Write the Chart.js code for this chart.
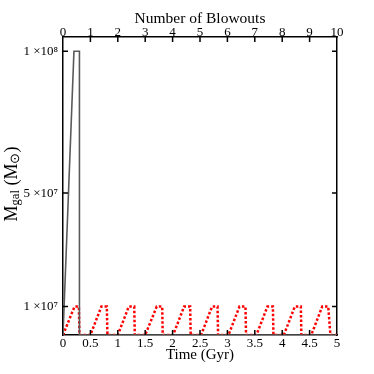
<!DOCTYPE html>
<html><head><meta charset="utf-8">
<script src="https://cdn.jsdelivr.net/npm/chart.js@4"></script>
<style>html,body{margin:0;padding:0;background:#fff}#wrap{width:374px;height:374px;position:relative}</style>
</head><body><div id="wrap"><canvas id="c"></canvas></div>
<script>
// Gray curve: galaxy gas mass (no blowout refill)
const grayTime = [0, 0.2, 0.3, 0.3, 5.0];
const grayMass = [0, 1e8, 1e8, 0, 0];
// Red dotted curve: repeated blowouts
const redTime = [0, 0.21, 0.29, 0.3, 0.5, 0.7, 0.8, 0.81, 1.0, 1.2, 1.3, 1.31, 1.5, 1.71, 1.81, 1.82,
  2.01, 2.21, 2.32, 2.33, 2.52, 2.72, 2.82, 2.83, 3.02, 3.22, 3.33, 3.34, 3.53, 3.73, 3.83, 3.84,
  4.03, 4.23, 4.34, 4.35, 4.53, 4.73, 4.84, 4.88, 5.0];
const redMass = [0, 1e7, 1e7, 0, 0, 1e7, 1e7, 0, 0, 1e7, 1e7, 0, 0, 1e7, 1e7, 0,
  0, 1e7, 1e7, 0, 0, 1e7, 1e7, 0, 0, 1e7, 1e7, 0, 0, 1e7, 1e7, 0,
  0, 1e7, 1e7, 0, 0, 1e7, 1e7, 0, 0];
const yTickValues = [1e7, 5e7, 1e8];
const yTickLabels = ['1 ×10⁷', '5 ×10⁷', '1 ×10⁸'];
const xTitle = 'Time (Gyr)';
const x2Title = 'Number of Blowouts';

const FONT = '"Liberation Serif", "Times New Roman", serif';
const toPts = (xs, ys) => xs.map((x, i) => ({x: x, y: ys[i]}));

const inwardTicks = {
  id: 'inwardTicks',
  afterDatasetsDraw(chart) {
    const ctx = chart.ctx, a = chart.chartArea, L = 5;
    ctx.save();
    ctx.strokeStyle = '#000';
    ctx.lineWidth = 1.5;
    ctx.beginPath();
    chart.scales.x.ticks.forEach(t => {
      if (t.value <= 0 || t.value >= 5) return;
      const px = chart.scales.x.getPixelForValue(t.value);
      ctx.moveTo(px, a.bottom); ctx.lineTo(px, a.bottom - L);
    });
    chart.scales.x2.ticks.forEach(t => {
      if (t.value <= 0 || t.value >= 10) return;
      const px = chart.scales.x2.getPixelForValue(t.value);
      ctx.moveTo(px, a.top); ctx.lineTo(px, a.top + L);
    });
    yTickValues.forEach(v => {
      const py = chart.scales.y.getPixelForValue(v);
      ctx.moveTo(a.left, py); ctx.lineTo(a.left + L, py);
      ctx.moveTo(a.right, py); ctx.lineTo(a.right - L, py);
    });
    ctx.stroke();
    // y-axis title with subscripts
    ctx.translate(12, 184);
    ctx.rotate(-Math.PI / 2);
    ctx.fillStyle = '#000';
    ctx.textBaseline = 'middle';
    const big = '18px ' + FONT, small = '12.5px ' + FONT;
    const parts = [['M', big, 0], ['gal', small, 4], [' (M', big, 0], ['⊙', small, 4], [')', big, 0]];
    let w = 0;
    parts.forEach(p => { ctx.font = p[1]; w += ctx.measureText(p[0]).width; });
    let x = -w / 2;
    parts.forEach(p => {
      ctx.font = p[1];
      ctx.fillText(p[0], x, p[2]);
      x += ctx.measureText(p[0]).width;
    });
    ctx.restore();
  }
};

new Chart(document.getElementById('c'), {
  type: 'line',
  data: {
    datasets: [
      {data: toPts(grayTime, grayMass), borderColor: '#5a5a5a', borderWidth: 1.6, pointRadius: 0, tension: 0, fill: false},
      {data: toPts(redTime, redMass), borderColor: '#ff0000', borderWidth: 2.5, borderDash: [2.5, 2], pointRadius: 0, tension: 0, fill: false}
    ]
  },
  options: {
    responsive: true, maintainAspectRatio: false, animation: false,
    layout: {padding: 0},
    plugins: {legend: {display: false}, tooltip: {enabled: false}},
    scales: {
      x: {
        type: 'linear', position: 'bottom', min: 0, max: 5,
        afterFit: s => { s.height = 39; },
        ticks: {stepSize: 0.5, padding: 1, color: '#000', maxRotation: 0, autoSkip: false, font: {family: FONT, size: 13},
          callback: v => String(Math.round(v * 10) / 10)},
        grid: {drawOnChartArea: false, drawTicks: false},
        border: {color: '#000', width: 1.5},
        title: {display: true, text: xTitle, color: '#000', font: {family: FONT, size: 15}, padding: {top: 0, bottom: 10}}
      },
      x2: {
        type: 'linear', position: 'top', min: 0, max: 10,
        afterFit: s => { s.height = 37; },
        ticks: {stepSize: 1, padding: -3, color: '#000', maxRotation: 0, autoSkip: false, font: {family: FONT, size: 13},
          callback: v => String(Math.round(v))},
        grid: {drawOnChartArea: false, drawTicks: false},
        border: {color: '#000', width: 1.5},
        title: {display: true, text: x2Title, color: '#000', font: {family: FONT, size: 15.5}, padding: {top: 10, bottom: 0}}
      },
      y: {
        type: 'linear', position: 'left', min: 0, max: 1.05e8,
        afterFit: s => { s.width = 63; },
        afterBuildTicks: s => { s.ticks = yTickValues.map(v => ({value: v})); },
        ticks: {padding: 5, color: '#000', font: {family: FONT, size: 13},
          callback: v => { const i = yTickValues.indexOf(v); return i >= 0 ? yTickLabels[i] : ''; }},
        grid: {drawOnChartArea: false, drawTicks: false},
        border: {color: '#000', width: 1.5}
      },
      y2: {
        type: 'linear', position: 'right', min: 0, max: 1.05e8,
        afterFit: s => { s.width = 37; },
        ticks: {display: false},
        grid: {drawOnChartArea: false, drawTicks: false},
        border: {color: '#000', width: 1.5}
      }
    }
  },
  plugins: [inwardTicks]
});
</script>
</body></html>
